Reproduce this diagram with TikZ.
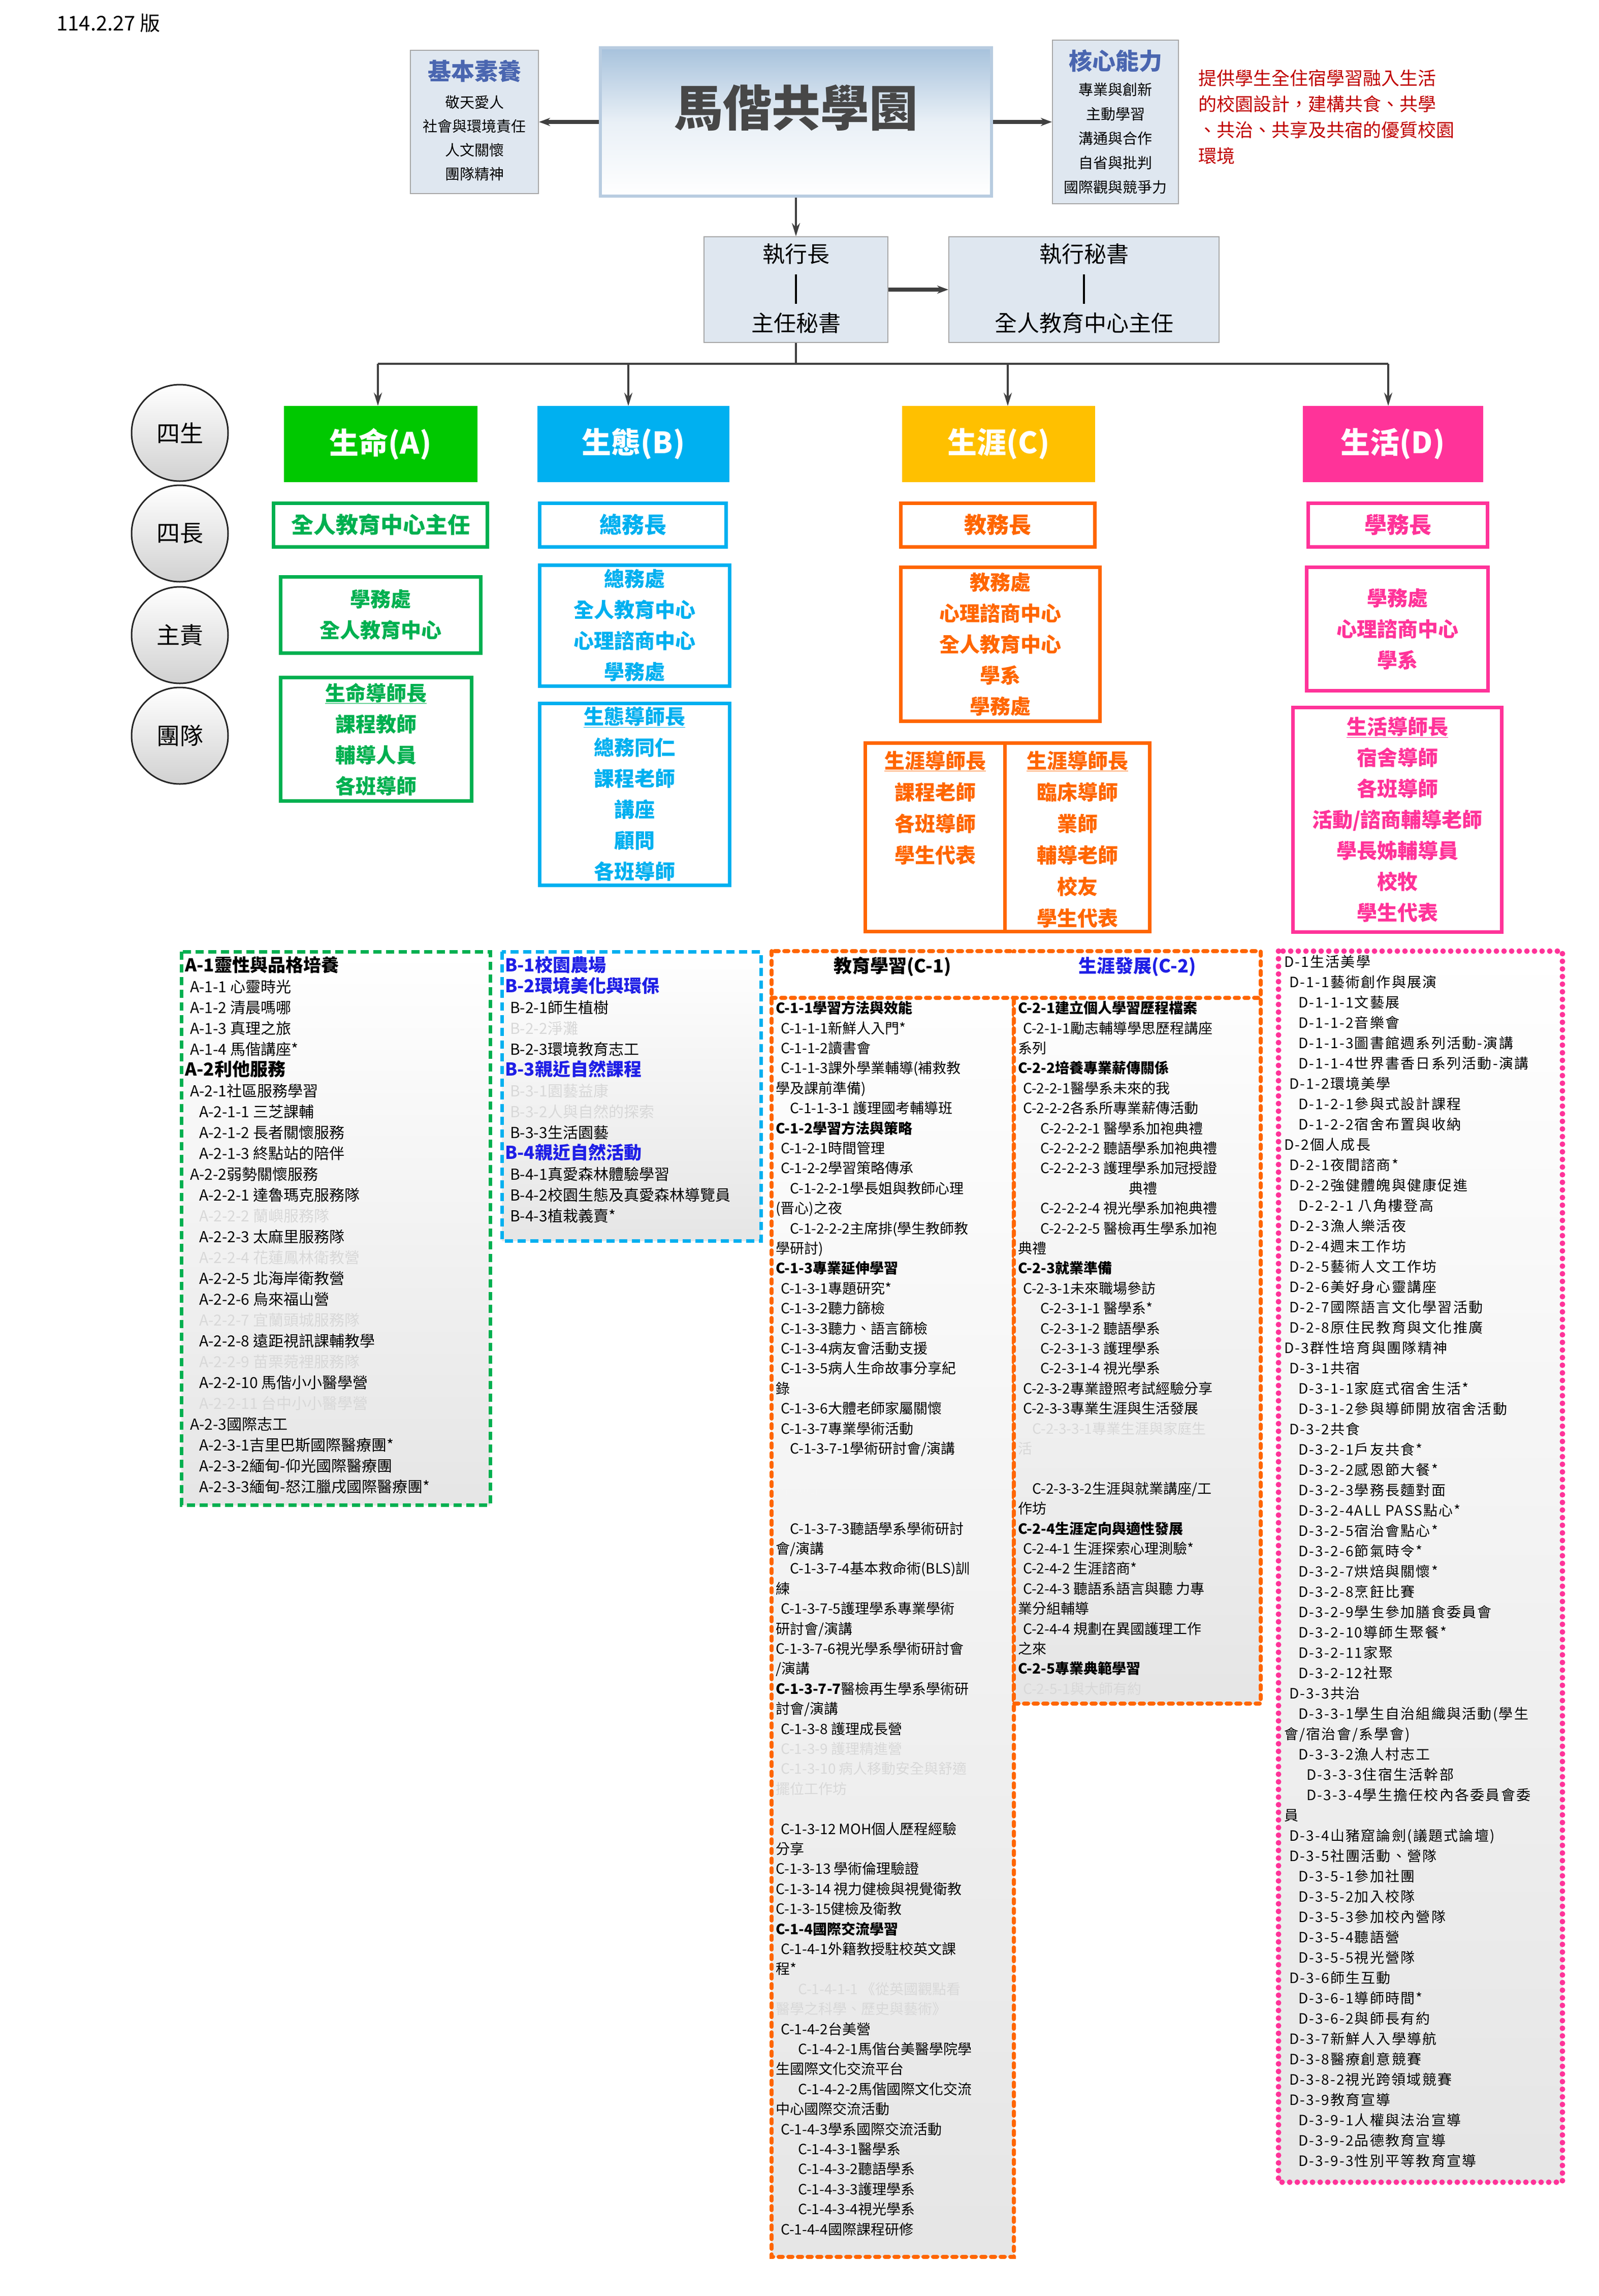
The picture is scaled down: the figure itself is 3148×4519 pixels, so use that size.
\documentclass[tikz,border=0pt]{standalone}
\usepackage{fontspec}
\setmainfont{Noto Sans CJK TC}
\usetikzlibrary{arrows.meta}
\definecolor{gA}{HTML}{00B050}
\definecolor{fA}{HTML}{00C800}
\definecolor{bB}{HTML}{00B0F0}
\definecolor{oC}{HTML}{FF6600}
\definecolor{yC}{HTML}{FFC000}
\definecolor{pD}{HTML}{FF3399}
\definecolor{hdr}{HTML}{4A66B0}
\definecolor{boxbg}{HTML}{DFE7F0}
\definecolor{redt}{HTML}{C00000}
\definecolor{linec}{HTML}{404040}
\definecolor{fade}{HTML}{D8D8D8}
\definecolor{bluet}{HTML}{1F1FE6}
\definecolor{mtop}{HTML}{A7C2DC}
\definecolor{mbrd}{HTML}{B8CCE0}
\newcommand{\Fd}[1]{\textcolor{fade}{#1}}
\newcommand{\Hd}[1]{{\fontsize{35}{41}\selectfont\bfseries #1}}
\newcommand{\Ia}{\hspace*{10pt}}
\newcommand{\Ib}{\hspace*{28pt}}
\newcommand{\Ic}{\hspace*{44pt}}
\begin{document}
\begin{tikzpicture}[x=1pt,y=-1pt,
  arr/.style={-{Stealth[length=22pt,width=16pt]},draw=linec,line width=8pt},
  thin/.style={draw=linec,line width=3.5pt},
  tarr/.style={thin,-{Stealth[length=26pt,width=16pt]}},
  topbox/.style={draw=black!35,line width=2pt,fill=boxbg,inner sep=0pt},
  gen/.style={fill=#1,text=white,font=\fontsize{58}{64}\selectfont\bfseries,inner sep=0pt,minimum height=150pt},
  rbox/.style={draw=#1,line width=7pt,fill=white,text=#1,inner sep=0pt,font=\fontsize{40}{61}\selectfont\bfseries,align=center},
  circ/.style={circle,draw=black!85,line width=3pt,minimum size=190pt,inner sep=0pt,shade,top color=white,bottom color=black!18,font=\fontsize{46}{50}\selectfont},
  lst/.style={anchor=north west,inner sep=0pt,align=left,font=\fontsize{30}{41}\selectfont},
  lbox/.style={line width=7pt,top color=white,bottom color=black!10}
]
\useasboundingbox (0,0) rectangle (3148,4519);
\fill[white] (0,0) rectangle (3148,4519);
\node[anchor=west,font=\fontsize{40}{44}\selectfont] (ver) at (108,46) {114.2.27 版};

% top boxes
\node[topbox,minimum width=252pt,minimum height=282pt] (basic) at (934,240) {};
\node[text=hdr,font=\fontsize{46}{50}\selectfont\bfseries] (basicT) at (934,140) {基本素養};
\node[align=center,font=\fontsize{29}{47}\selectfont] (basicL) at (934,272) {敬天愛人\\社會與環境責任\\人文關懷\\團隊精神};
\node[draw=mbrd,line width=6pt,minimum width=770pt,minimum height=292pt,inner sep=0pt,
  top color=mtop,bottom color=white,middle color=mtop!25!white] (main) at (1567,240) {};
\node[text=black!72,font=\fontsize{96}{100}\selectfont\bfseries] (mainT) at (1567,212) {馬偕共學園};
\node[topbox,minimum width=248pt,minimum height=322pt] (core) at (2196,240) {};
\node[text=hdr,font=\fontsize{46}{50}\selectfont\bfseries] (coreT) at (2196,120) {核心能力};
\node[align=center,font=\fontsize{29}{48}\selectfont] (coreL) at (2196,272) {專業與創新\\主動學習\\溝通與合作\\自省與批判\\國際觀與競爭力};
\node[anchor=north west,align=left,text=redt,font=\fontsize{36}{51}\selectfont] (goal) at (2356,134) {提供學生全住宿學習融入生活\\的校園設計，建構共食、共學\\、共治、共享及共宿的優質校園\\環境};
\draw[arr] (main.west) -- (basic.east);
\draw[arr] (main.east) -- (core.west);

\node[topbox,minimum width=362pt,minimum height=208pt] (exec) at (1567,570) {};
\node[font=\fontsize{44}{50}\selectfont] (execT) at (1567,500) {執行長};
\node[font=\fontsize{44}{50}\selectfont] (execB) at (1567,636) {主任秘書};
\draw[line width=4pt] (1567,540) -- (1567,598);
\node[topbox,minimum width=532pt,minimum height=208pt] (sec) at (2134,570) {};
\node[font=\fontsize{44}{50}\selectfont] (secT) at (2134,500) {執行秘書};
\node[font=\fontsize{44}{50}\selectfont] (secB) at (2134,636) {全人教育中心主任};
\draw[line width=4pt] (2134,540) -- (2134,598);
\draw[tarr] (main.south) -- (exec.north);
\draw[arr] (exec.east) -- (sec.west);

% generation boxes
\node[gen=fA,minimum width=381pt] (tA) at (749,874) {生命(A)};
\node[gen=bB,minimum width=378pt] (tB) at (1247,874) {生態(B)};
\node[gen=yC,minimum width=380pt] (tC) at (1966,874) {生涯(C)};
\node[gen=pD,minimum width=355pt] (tD) at (2742,874) {生活(D)};
\coordinate (busL) at (744,716);
\coordinate (busR) at (2733,716);
\draw[thin] (exec.south) -- (exec.south |- busL);
\draw[thin] (busL) -- (busR);
\draw[tarr] (busL) -- (busL |- tA.north);
\draw[tarr] (1237,716) -- (1237,799);
\draw[tarr] (1984,716) -- (1984,799);
\draw[tarr] (busR) -- (busR |- tD.north);

% circles
\node[circ] (c1) at (354,852) {四生};
\node[circ] (c2) at (354,1050) {四長};
\node[circ] (c3) at (354,1250) {主責};
\node[circ] (c4) at (354,1448) {團隊};

% leader row
\node[rbox=gA,minimum width=421pt,minimum height=86pt,font=\fontsize{44}{50}\selectfont\bfseries] (lA) at (749,1033) {全人教育中心主任};
\node[rbox=bB,minimum width=367pt,minimum height=86pt,font=\fontsize{44}{50}\selectfont\bfseries] (lB) at (1246,1033) {總務長};
\node[rbox=oC,minimum width=382pt,minimum height=86pt,font=\fontsize{44}{50}\selectfont\bfseries] (lC) at (1964,1033) {教務長};
\node[rbox=pD,minimum width=353pt,minimum height=86pt,font=\fontsize{44}{50}\selectfont\bfseries] (lD) at (2752,1033) {學務長};

% responsible row
\node[rbox=gA,minimum width=394pt,minimum height=150pt] (rA) at (749,1210) {學務處\\全人教育中心};
\node[rbox=bB,minimum width=374pt,minimum height=238pt] (rB) at (1249,1231) {總務處\\全人教育中心\\心理諮商中心\\學務處};
\node[rbox=oC,minimum width=392pt,minimum height=303pt] (rC) at (1969,1268) {教務處\\心理諮商中心\\全人教育中心\\學系\\學務處};
\node[rbox=pD,minimum width=357pt,minimum height=243pt] (rD) at (2751,1238) {學務處\\心理諮商中心\\學系};

% team row
\node[rbox=gA,minimum width=376pt,minimum height=243pt] (mA) at (740,1455) {\underline{生命導師長}\\課程教師\\輔導人員\\各班導師};
\node[rbox=bB,minimum width=374pt,minimum height=358pt] (mB) at (1249,1563) {\underline{生態導師長}\\總務同仁\\課程老師\\講座\\顧問\\各班導師};
\node[rbox=oC,minimum width=276pt,minimum height=371pt] (mC1) at (1841,1648) {};
\node[rbox=oC,minimum width=285pt,minimum height=371pt] (mC2) at (2121,1648) {};
\node[anchor=north,align=center,text=oC,font=\fontsize{40}{62}\selectfont\bfseries] (mC1t) at (1841,1474) {\underline{生涯導師長}\\課程老師\\各班導師\\學生代表};
\node[anchor=north,align=center,text=oC,font=\fontsize{40}{62}\selectfont\bfseries] (mC2t) at (2121,1474) {\underline{生涯導師長}\\臨床導師\\業師\\輔導老師\\校友\\學生代表};
\node[rbox=pD,minimum width=411pt,minimum height=442pt] (mD) at (2751,1613) {\underline{生活導師長}\\宿舍導師\\各班導師\\活動/諮商輔導老師\\學長姊輔導員\\校牧\\學生代表};

% list boxes
\draw[lbox,draw=gA,dash pattern=on 16pt off 9pt] (357,1873) rectangle (965,2962);
\draw[lbox,draw=bB,dash pattern=on 16pt off 9pt] (988,1873) rectangle (1498,2442);
\draw[lbox,draw=oC,line width=8pt,line cap=round,dash pattern=on 8pt off 11pt] (1519,1872) rectangle (1996,4442);
\draw[lbox,draw=oC,line width=8pt,line cap=round,dash pattern=on 8pt off 11pt] (1996,1872) rectangle (2482,3353);
\fill[white] (1523,1876) rectangle (2478,1960);
\draw[draw=oC,line width=8pt,line cap=round,dash pattern=on 8pt off 11pt] (1519,1964) -- (2482,1964);
\draw[lbox,draw=pD,line width=11pt,line cap=round,dash pattern=on 0pt off 15pt] (2517,1872) rectangle (3076,4295);

\node[font=\fontsize{36}{40}\selectfont\bfseries] (h1) at (1757,1903) {教育學習(C-1)};
\node[text=bluet,font=\fontsize{36}{40}\selectfont\bfseries] (h2) at (2239,1903) {生涯發展(C-2)};

\node[lst] (listA) at (364,1882) {\Hd{A-1靈性與品格培養}\\
\Ia A-1-1 心靈時光\\ \Ia A-1-2 清晨嗎哪\\ \Ia A-1-3 真理之旅\\ \Ia A-1-4 馬偕講座*\\
\Hd{A-2利他服務}\\
\Ia A-2-1社區服務學習\\ \Ib A-2-1-1 三芝課輔\\ \Ib A-2-1-2 長者關懷服務\\ \Ib A-2-1-3 終點站的陪伴\\
\Ia A-2-2弱勢關懷服務\\ \Ib A-2-2-1 達魯瑪克服務隊\\ \Ib\Fd{A-2-2-2 蘭嶼服務隊}\\ \Ib A-2-2-3 太麻里服務隊\\
\Ib\Fd{A-2-2-4 花蓮鳳林衛教營}\\ \Ib A-2-2-5 北海岸衛教營\\ \Ib A-2-2-6 烏來福山營\\ \Ib\Fd{A-2-2-7 宜蘭頭城服務隊}\\
\Ib A-2-2-8 遠距視訊課輔教學\\ \Ib\Fd{A-2-2-9 苗栗菀裡服務隊}\\ \Ib A-2-2-10 馬偕小小醫學營\\ \Ib\Fd{A-2-2-11 台中小小醫學營}\\
\Ia A-2-3國際志工\\ \Ib A-2-3-1吉里巴斯國際醫療團*\\ \Ib A-2-3-2緬甸-仰光國際醫療團\\ \Ib A-2-3-3緬甸-怒江臘戌國際醫療團*};

\node[lst,text=bluet] (listB) at (994,1882) {\Hd{B-1校園農場}\\ \Hd{B-2環境美化與環保}\\
\textcolor{black}{\Ia B-2-1師生植樹}\\ \Ia\Fd{B-2-2淨灘}\\ \textcolor{black}{\Ia B-2-3環境教育志工}\\
\Hd{B-3親近自然課程}\\ \Ia\Fd{B-3-1園藝益康}\\ \Ia\Fd{B-3-2人與自然的探索}\\ \textcolor{black}{\Ia B-3-3生活園藝}\\
\Hd{B-4親近自然活動}\\ \textcolor{black}{\Ia B-4-1真愛森林體驗學習}\\ \textcolor{black}{\Ia B-4-2校園生態及真愛森林導覽員}\\ \textcolor{black}{\Ia B-4-3植栽義賣*}};

\node[lst,font=\fontsize{28}{39.4}\selectfont] (listC1) at (1527,1970) {\textbf{C-1-1學習方法與效能}\\
\Ia C-1-1-1新鮮人入門*\\ \Ia C-1-1-2讀書會\\ \Ia C-1-1-3課外學業輔導(補救教\\ 學及課前準備)\\ \Ib C-1-1-3-1 護理國考輔導班\\
\textbf{C-1-2學習方法與策略}\\ \Ia C-1-2-1時間管理\\ \Ia C-1-2-2學習策略傳承\\ \Ib C-1-2-2-1學長姐與教師心理\\ (晋心)之夜\\
\Ib C-1-2-2-2主席排(學生教師教\\ 學研討)\\
\textbf{C-1-3專業延伸學習}\\ \Ia C-1-3-1專題研究*\\ \Ia C-1-3-2聽力篩檢\\ \Ia C-1-3-3聽力、語言篩檢\\ \Ia C-1-3-4病友會活動支援\\
\Ia C-1-3-5病人生命故事分享紀\\ 錄\\ \Ia C-1-3-6大體老師家屬關懷\\ \Ia C-1-3-7專業學術活動\\ \Ib C-1-3-7-1學術研討會/演講\\
\Ib\textcolor{black!4}{C-1-3-7-2護理學系學術研討}\\ \textcolor{black!4}{會/演講}\\ ~\\
\Ib C-1-3-7-3聽語學系學術研討\\ 會/演講\\ \Ib C-1-3-7-4基本救命術(BLS)訓\\ 練\\
\Ia C-1-3-7-5護理學系專業學術\\ 研討會/演講\\ C-1-3-7-6視光學系學術研討會\\ /演講\\
\textbf{C-1-3-7-7}醫檢再生學系學術研\\ 討會/演講\\ \Ia C-1-3-8 護理成長營\\ \Ia\Fd{C-1-3-9 護理精進營}\\
\Ia\Fd{C-1-3-10 病人移動安全與舒適}\\ \Fd{擺位工作坊}\\ ~\\
\Ia C-1-3-12 MOH個人歷程經驗\\ 分享\\ C-1-3-13 學術倫理驗證\\ C-1-3-14 視力健檢與視覺衛教\\ C-1-3-15健檢及衛教\\
\textbf{C-1-4國際交流學習}\\ \Ia C-1-4-1外籍教授駐校英文課\\ 程*\\
\Ic\Fd{C-1-4-1-1 《從英國觀點看}\\ \Fd{醫學之科學、歷史與藝術》}\\
\Ia C-1-4-2台美營\\ \Ic C-1-4-2-1馬偕台美醫學院學\\ 生國際文化交流平台\\ \Ic C-1-4-2-2馬偕國際文化交流\\ 中心國際交流活動\\
\Ia C-1-4-3學系國際交流活動\\ \Ic C-1-4-3-1醫學系\\ \Ic C-1-4-3-2聽語學系\\ \Ic C-1-4-3-3護理學系\\ \Ic C-1-4-3-4視光學系\\
\Ia C-1-4-4國際課程研修};

\node[lst,font=\fontsize{28}{39.4}\selectfont] (listC2) at (2004,1970) {\textbf{C-2-1建立個人學習歷程檔案}\\
\Ia C-2-1-1勵志輔導學思歷程講座\\ 系列\\ \textbf{C-2-2培養專業薪傳關係}\\ \Ia C-2-2-1醫學系未來的我\\ \Ia C-2-2-2各系所專業薪傳活動\\
\Ic C-2-2-2-1 醫學系加袍典禮\\ \Ic C-2-2-2-2 聽語學系加袍典禮\\ \Ic C-2-2-2-3 護理學系加冠授證\\ \hspace*{218pt}典禮\\
\Ic C-2-2-2-4 視光學系加袍典禮\\ \Ic C-2-2-2-5 醫檢再生學系加袍\\ 典禮\\
\textbf{C-2-3就業準備}\\ \Ia C-2-3-1未來職場參訪\\ \Ic C-2-3-1-1 醫學系*\\ \Ic C-2-3-1-2 聽語學系\\ \Ic C-2-3-1-3 護理學系\\ \Ic C-2-3-1-4 視光學系\\
\Ia C-2-3-2專業證照考試經驗分享\\ \Ia C-2-3-3專業生涯與生活發展\\ \Ib\Fd{C-2-3-3-1專業生涯與家庭生}\\ \Fd{活}\\ ~\\
\Ib C-2-3-3-2生涯與就業講座/工\\ 作坊\\
\textbf{C-2-4生涯定向與適性發展}\\ \Ia C-2-4-1 生涯探索心理測驗*\\ \Ia C-2-4-2 生涯諮商*\\ \Ia C-2-4-3 聽語系語言與聽 力專\\ 業分組輔導\\
\Ia C-2-4-4 規劃在異國護理工作\\ 之來\\ \textbf{C-2-5專業典範學習}\\ \Ia\Fd{C-2-5-1與大師有約}};

\node[lst,font=\fontsize{28}{40}\selectfont\addfontfeatures{LetterSpace=8}] (listD) at (2528,1880) {D-1生活美學\\
\Ia D-1-1藝術創作與展演\\ \Ib D-1-1-1文藝展\\ \Ib D-1-1-2音樂會\\ \Ib D-1-1-3圖書館週系列活動-演講\\ \Ib D-1-1-4世界書香日系列活動-演講\\
\Ia D-1-2環境美學\\ \Ib D-1-2-1參與式設計課程\\ \Ib D-1-2-2宿舍布置與收納\\
D-2個人成長\\ \Ia D-2-1夜間諮商*\\ \Ia D-2-2強健體魄與健康促進\\ \Ib D-2-2-1 八角樓登高\\ \Ia D-2-3漁人樂活夜\\ \Ia D-2-4週末工作坊\\
\Ia D-2-5藝術人文工作坊\\ \Ia D-2-6美好身心靈講座\\ \Ia D-2-7國際語言文化學習活動\\ \Ia D-2-8原住民教育與文化推廣\\
D-3群性培育與團隊精神\\ \Ia D-3-1共宿\\ \Ib D-3-1-1家庭式宿舍生活*\\ \Ib D-3-1-2參與導師開放宿舍活動\\
\Ia D-3-2共食\\ \Ib D-3-2-1戶友共食*\\ \Ib D-3-2-2感恩節大餐*\\ \Ib D-3-2-3學務長麵對面\\ \Ib D-3-2-4ALL PASS點心*\\
\Ib D-3-2-5宿治會點心*\\ \Ib D-3-2-6節氣時令*\\ \Ib D-3-2-7烘焙與關懷*\\ \Ib D-3-2-8烹飪比賽\\ \Ib D-3-2-9學生參加膳食委員會\\
\Ib D-3-2-10導師生聚餐*\\ \Ib D-3-2-11家聚\\ \Ib D-3-2-12社聚\\
\Ia D-3-3共治\\ \Ib D-3-3-1學生自治組織與活動(學生\\ 會/宿治會/系學會)\\ \Ib D-3-3-2漁人村志工\\ \Ic D-3-3-3住宿生活幹部\\
\Ic D-3-3-4學生擔任校內各委員會委\\ 員\\
\Ia D-3-4山豬窟論劍(議題式論壇)\\ \Ia D-3-5社團活動、營隊\\ \Ib D-3-5-1參加社團\\ \Ib D-3-5-2加入校隊\\ \Ib D-3-5-3參加校內營隊\\
\Ib D-3-5-4聽語營\\ \Ib D-3-5-5視光營隊\\ \Ia D-3-6師生互動\\ \Ib D-3-6-1導師時間*\\ \Ib D-3-6-2與師長有約\\
\Ia D-3-7新鮮人入學導航\\ \Ia D-3-8醫療創意競賽\\ \Ia D-3-8-2視光跨領域競賽\\ \Ia D-3-9教育宣導\\
\Ib D-3-9-1人權與法治宣導\\ \Ib D-3-9-2品德教育宣導\\ \Ib D-3-9-3性別平等教育宣導};
\end{tikzpicture}
\end{document}
